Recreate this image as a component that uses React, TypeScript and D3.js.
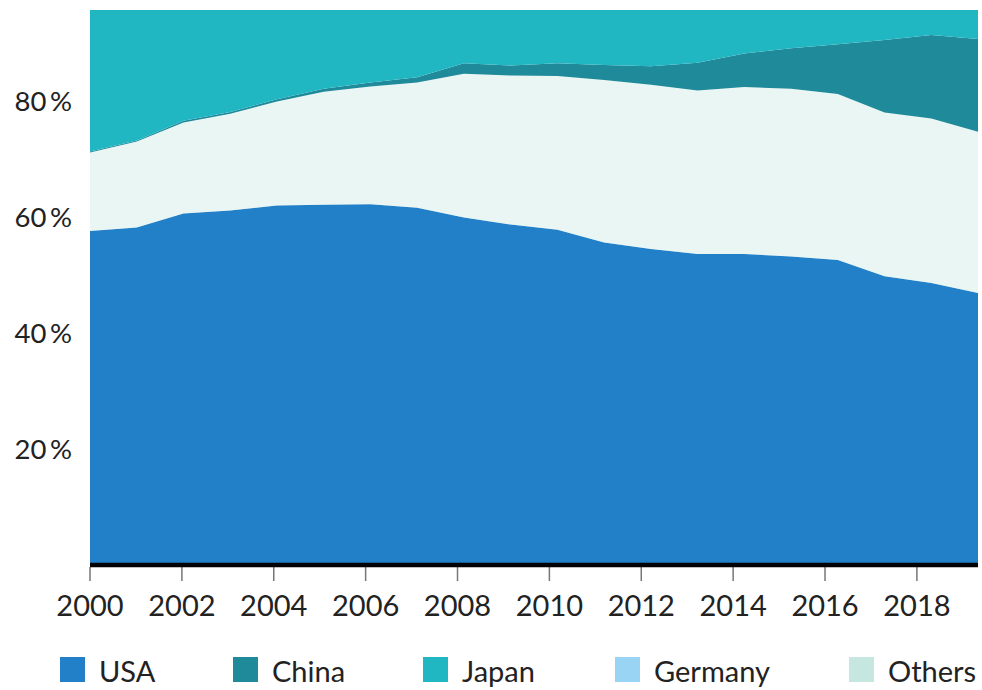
import * as d3 from "d3";
import React from "react";

// shares in %, one value per year
const years = [
  2000, 2001, 2002, 2003, 2004, 2005, 2006, 2007, 2008, 2009,
  2010, 2011, 2012, 2013, 2014, 2015, 2016, 2017, 2018, 2019,
];
const usa = [57.6, 58.2, 60.6, 61.1, 62.0, 62.1, 62.2, 61.6, 59.9, 58.7, 57.8, 55.6, 54.5, 53.6, 53.6, 53.2, 52.6, 49.8, 48.6, 46.9];
const others = [13.5, 14.8, 15.7, 16.7, 17.9, 19.5, 20.3, 21.6, 24.8, 25.7, 26.5, 28.0, 28.3, 28.2, 28.8, 28.9, 28.6, 28.2, 28.4, 27.8];
const china = [0.2, 0.2, 0.3, 0.3, 0.4, 0.5, 0.7, 0.9, 1.8, 1.7, 2.2, 2.6, 3.2, 4.8, 5.8, 7.0, 8.6, 12.5, 14.4, 16.0];
const japan = [27.3, 25.5, 22.1, 20.7, 18.6, 16.8, 15.8, 14.9, 12.6, 13.0, 12.6, 13.0, 13.2, 12.6, 11.1, 10.2, 9.5, 8.9, 8.0, 8.7];
const germany = [1.4, 1.3, 1.3, 1.2, 1.1, 1.1, 1.0, 1.0, 0.9, 0.9, 0.9, 0.8, 0.8, 0.8, 0.7, 0.7, 0.7, 0.6, 0.6, 0.6];

const yTicks = [20, 40, 60, 80];
const xTicks = [2000, 2002, 2004, 2006, 2008, 2010, 2012, 2014, 2016, 2018];

// stacking order (bottom to top) and legend order differ
const stackKeys = ["USA", "Others", "China", "Japan", "Germany"];
const legendKeys = ["USA", "China", "Japan", "Germany", "Others"];

const colors: Record<string, string> = {
  USA: "#2180c8",
  China: "#1f8a9a",
  Japan: "#20b7c3",
  Germany: "#9ad4f4",
  Others: "#c6e6e0",
};

const series: Record<string, number[]> = { USA: usa, Others: others, China: china, Japan: japan, Germany: germany };

const width = 982;
const height = 690;
const margin = { top: 10, right: 4, bottom: 125, left: 90 };

export default function App() {
  const rows = years.map((year, i) => {
    const r: Record<string, number> = { year };
    stackKeys.forEach((k) => (r[k] = series[k][i]));
    return r;
  });

  const stacked = d3.stack<Record<string, number>>().keys(stackKeys)(rows);

  // data points sit on an even grid across the full plot width
  const x = d3
    .scalePoint<number>()
    .domain(years)
    .range([margin.left, width - margin.right]);

  // the time axis is a little narrower than the data grid
  const xAxis = d3
    .scaleLinear()
    .domain([2000, 2019.33])
    .range([margin.left, width - margin.right]);

  const baseY = height - margin.bottom;
  const y = d3.scaleLinear().domain([0, 100]).range([baseY, baseY - 580]);

  const area = d3
    .area<d3.SeriesPoint<Record<string, number>>>()
    .x((d) => x(d.data.year) as number)
    .y0((d) => y(d[0]))
    .y1((d) => y(d[1]));

  const legendX = [60, 233, 423, 615, 849];

  return (
    <svg
      width={width}
      height={height}
      style={{ position: "absolute", left: 0, top: 0, fontFamily: "Lato, sans-serif" }}
    >
      <defs>
        <clipPath id="plot">
          <rect
            x={margin.left}
            y={margin.top}
            width={width - margin.left - margin.right}
            height={baseY - margin.top}
          />
        </clipPath>
      </defs>

      <g clipPath="url(#plot)">
        {stacked.map((s) => (
          <path
            key={s.key}
            d={area(s) ?? ""}
            fill={colors[s.key]}
            fillOpacity={s.key === "Others" ? 0.36 : 1}
          />
        ))}
      </g>

      {yTicks.map((t) => (
        <text key={t} x={72} y={y(t)} dy="0.35em" textAnchor="end" fontSize={27.5} fill="#222">
          {t}
          {"\u2009%"}
        </text>
      ))}

      {xTicks.map((t) => (
        <g key={t} transform={`translate(${xAxis(t)},0)`}>
          <line y1={baseY + 2} y2={baseY + 16} stroke="#777" strokeWidth={1.5} />
          <text y={baseY + 51} textAnchor="middle" fontSize={29} fill="#222">
            {t}
          </text>
        </g>
      ))}

      <line
        x1={margin.left}
        x2={width - margin.right}
        y1={baseY}
        y2={baseY}
        stroke="#000"
        strokeWidth={4.5}
      />

      {legendKeys.map((k, i) => (
        <g key={k} transform={`translate(${legendX[i]},657)`}>
          <rect width={25} height={25} fill={colors[k]} />
          <text x={39} y={25} fontSize={29} fill="#222">
            {k}
          </text>
        </g>
      ))}
    </svg>
  );
}
